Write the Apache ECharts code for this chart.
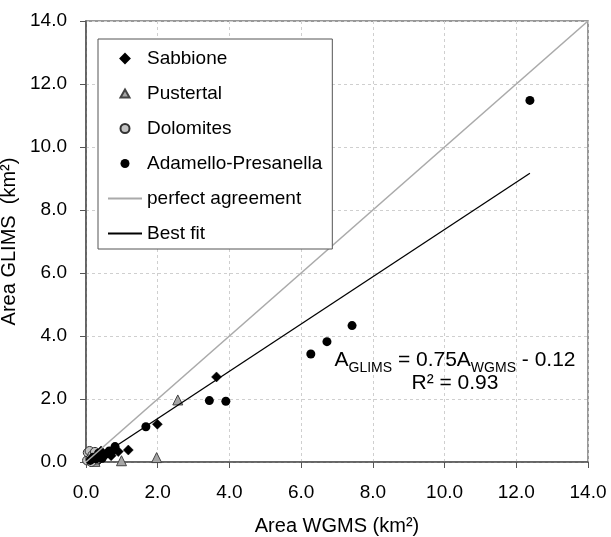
<!DOCTYPE html>
<html><head><meta charset="utf-8">
<script src="https://cdn.jsdelivr.net/npm/echarts@6/dist/echarts.min.js"></script>
<style>html,body{margin:0;padding:0;background:#fff}#c{width:611px;height:537px}</style>
</head><body><div id="c"></div>
<script>
// Area WGMS (x) vs Area GLIMS (y), km²
const sabbione = [[0.2,0.12],[0.3,0.22],[0.35,0.05],[0.42,0.35],[0.5,0.18],[0.6,0.3],[0.7,0.2],[0.75,0.33],[0.9,0.33],[1.18,0.38],[1.99,1.2],[3.64,2.7]];
const pustertal = [[0.08,0.12],[0.25,0.02],[0.99,0.04],[1.97,0.14],[2.56,1.97]];
const dolomites = [[0.03,0.05],[0.05,0.3],[0.1,0.35],[0.12,0.1],[0.18,0.22],[0.25,0.32],[0.3,0.08],[0.38,0.15],[0.15,0.0]];
const adamello = [[0.12,0.05],[0.2,0.15],[0.28,0.1],[0.35,0.28],[0.45,0.12],[0.55,0.25],[0.65,0.35],[0.81,0.49],[1.67,1.12],[3.44,1.95],[3.9,1.93],[6.27,3.43],[6.72,3.82],[7.42,4.33],[12.38,11.48]];
const perfectAgreement = [[0,0],[14,14]];
const bestFit = [[0.16,0.0],[12.38,9.165]];
const axisMin = 0, axisMax = 14, axisStep = 2;
const xName = 'Area WGMS (km²)';
const yName = 'Area GLIMS  (km²)';
const seriesNames = ['Sabbione','Pustertal','Dolomites','Adamello-Presanella','perfect agreement','Best fit'];

const FONT = "'Liberation Sans', Arial, Helvetica, sans-serif";
const chart = echarts.init(document.getElementById('c'));
function axis(name, gap, margin){
  return {
    type:'value', min:axisMin, max:axisMax, interval:axisStep,
    name:name, nameLocation:'middle', nameGap:gap,
    nameTextStyle:{fontSize:20,color:'#000',fontFamily:FONT},
    axisLine:{show:true,onZero:false,lineStyle:{color:'#555',width:1.5}},
    axisTick:{show:true,length:6,lineStyle:{color:'#555',width:1}},
    axisLabel:{fontSize:19,color:'#000',margin:margin,fontFamily:FONT,formatter:v=>v.toFixed(1)},
    splitLine:{show:true,lineStyle:{color:'#cfcfcf',type:[3,3],width:1}}
  };
}
// legend icons: padded to the 34x9 legend item box so they keep their shape
const diamondIcon = 'path://M0,0M34,9M17,0L21.5,4.5L17,9L12.5,4.5Z';
const triangleIcon = 'path://M0,0M34,9M17,0.5L21.5,8.5L12.5,8.5Z';
const option = {
  animation:false,
  backgroundColor:'#fff',
  grid:{left:86,top:21,right:23,bottom:75,containLabel:false,outerBoundsMode:'none',
        show:true,borderColor:'#777',borderWidth:1.5,backgroundColor:'transparent'},
  xAxis:axis(xName,54,21),
  yAxis:axis(yName,56,19),
  legend:{
    orient:'vertical', left:98, top:39,
    padding:[10,10,6,9], itemWidth:34, itemHeight:9, itemGap:16,
    borderColor:'#555', borderWidth:1, backgroundColor:'#fff',
    textStyle:{fontSize:19,color:'#000',fontFamily:FONT},
    data:[
      {name:seriesNames[0], icon:diamondIcon},
      {name:seriesNames[1], icon:triangleIcon},
      {name:seriesNames[2], icon:'circle'},
      {name:seriesNames[3], icon:'circle'},
      {name:seriesNames[4], itemStyle:{opacity:0}},
      {name:seriesNames[5], itemStyle:{opacity:0}}
    ]
  },
  series:[
    {name:seriesNames[0],type:'scatter',symbol:'diamond',symbolSize:10,data:sabbione,
     itemStyle:{color:'#000',borderColor:'#000',borderWidth:0.5,opacity:1}},
    {name:seriesNames[1],type:'scatter',symbol:'triangle',symbolSize:10,data:pustertal,
     itemStyle:{color:'#a6a6a6',borderColor:'#444',borderWidth:1,opacity:1}},
    {name:seriesNames[2],type:'scatter',symbol:'circle',symbolSize:9,data:dolomites,
     itemStyle:{color:'#c4c4c4',borderColor:'#333',borderWidth:1,opacity:1}},
    {name:seriesNames[3],type:'scatter',symbol:'circle',symbolSize:9,data:adamello,
     itemStyle:{color:'#000',borderColor:'#000',borderWidth:0,opacity:1}},
    {name:seriesNames[4],type:'line',symbol:'none',data:perfectAgreement,
     lineStyle:{color:'#aaaaaa',width:1.6},itemStyle:{color:'#aaaaaa'}},
    {name:seriesNames[5],type:'line',symbol:'none',data:bestFit,
     lineStyle:{color:'#000',width:1.3},itemStyle:{color:'#000'}}
  ],
  graphic:[
    {type:'text', x:455, y:360, z:100,
     style:{text:'A{sub|GLIMS} = 0.75A{sub|WGMS} - 0.12', align:'center', verticalAlign:'middle',
       fontSize:21, fontFamily:FONT, fill:'#000',
       rich:{sub:{fontSize:14,fontFamily:FONT,padding:[16,0,0,0]}}}},
    {type:'text', x:455, y:383, z:100,
     style:{text:'R² = 0.93', align:'center', verticalAlign:'middle', fontSize:21, fontFamily:FONT, fill:'#000'}}
  ]
};
chart.setOption(option);
</script></body></html>
